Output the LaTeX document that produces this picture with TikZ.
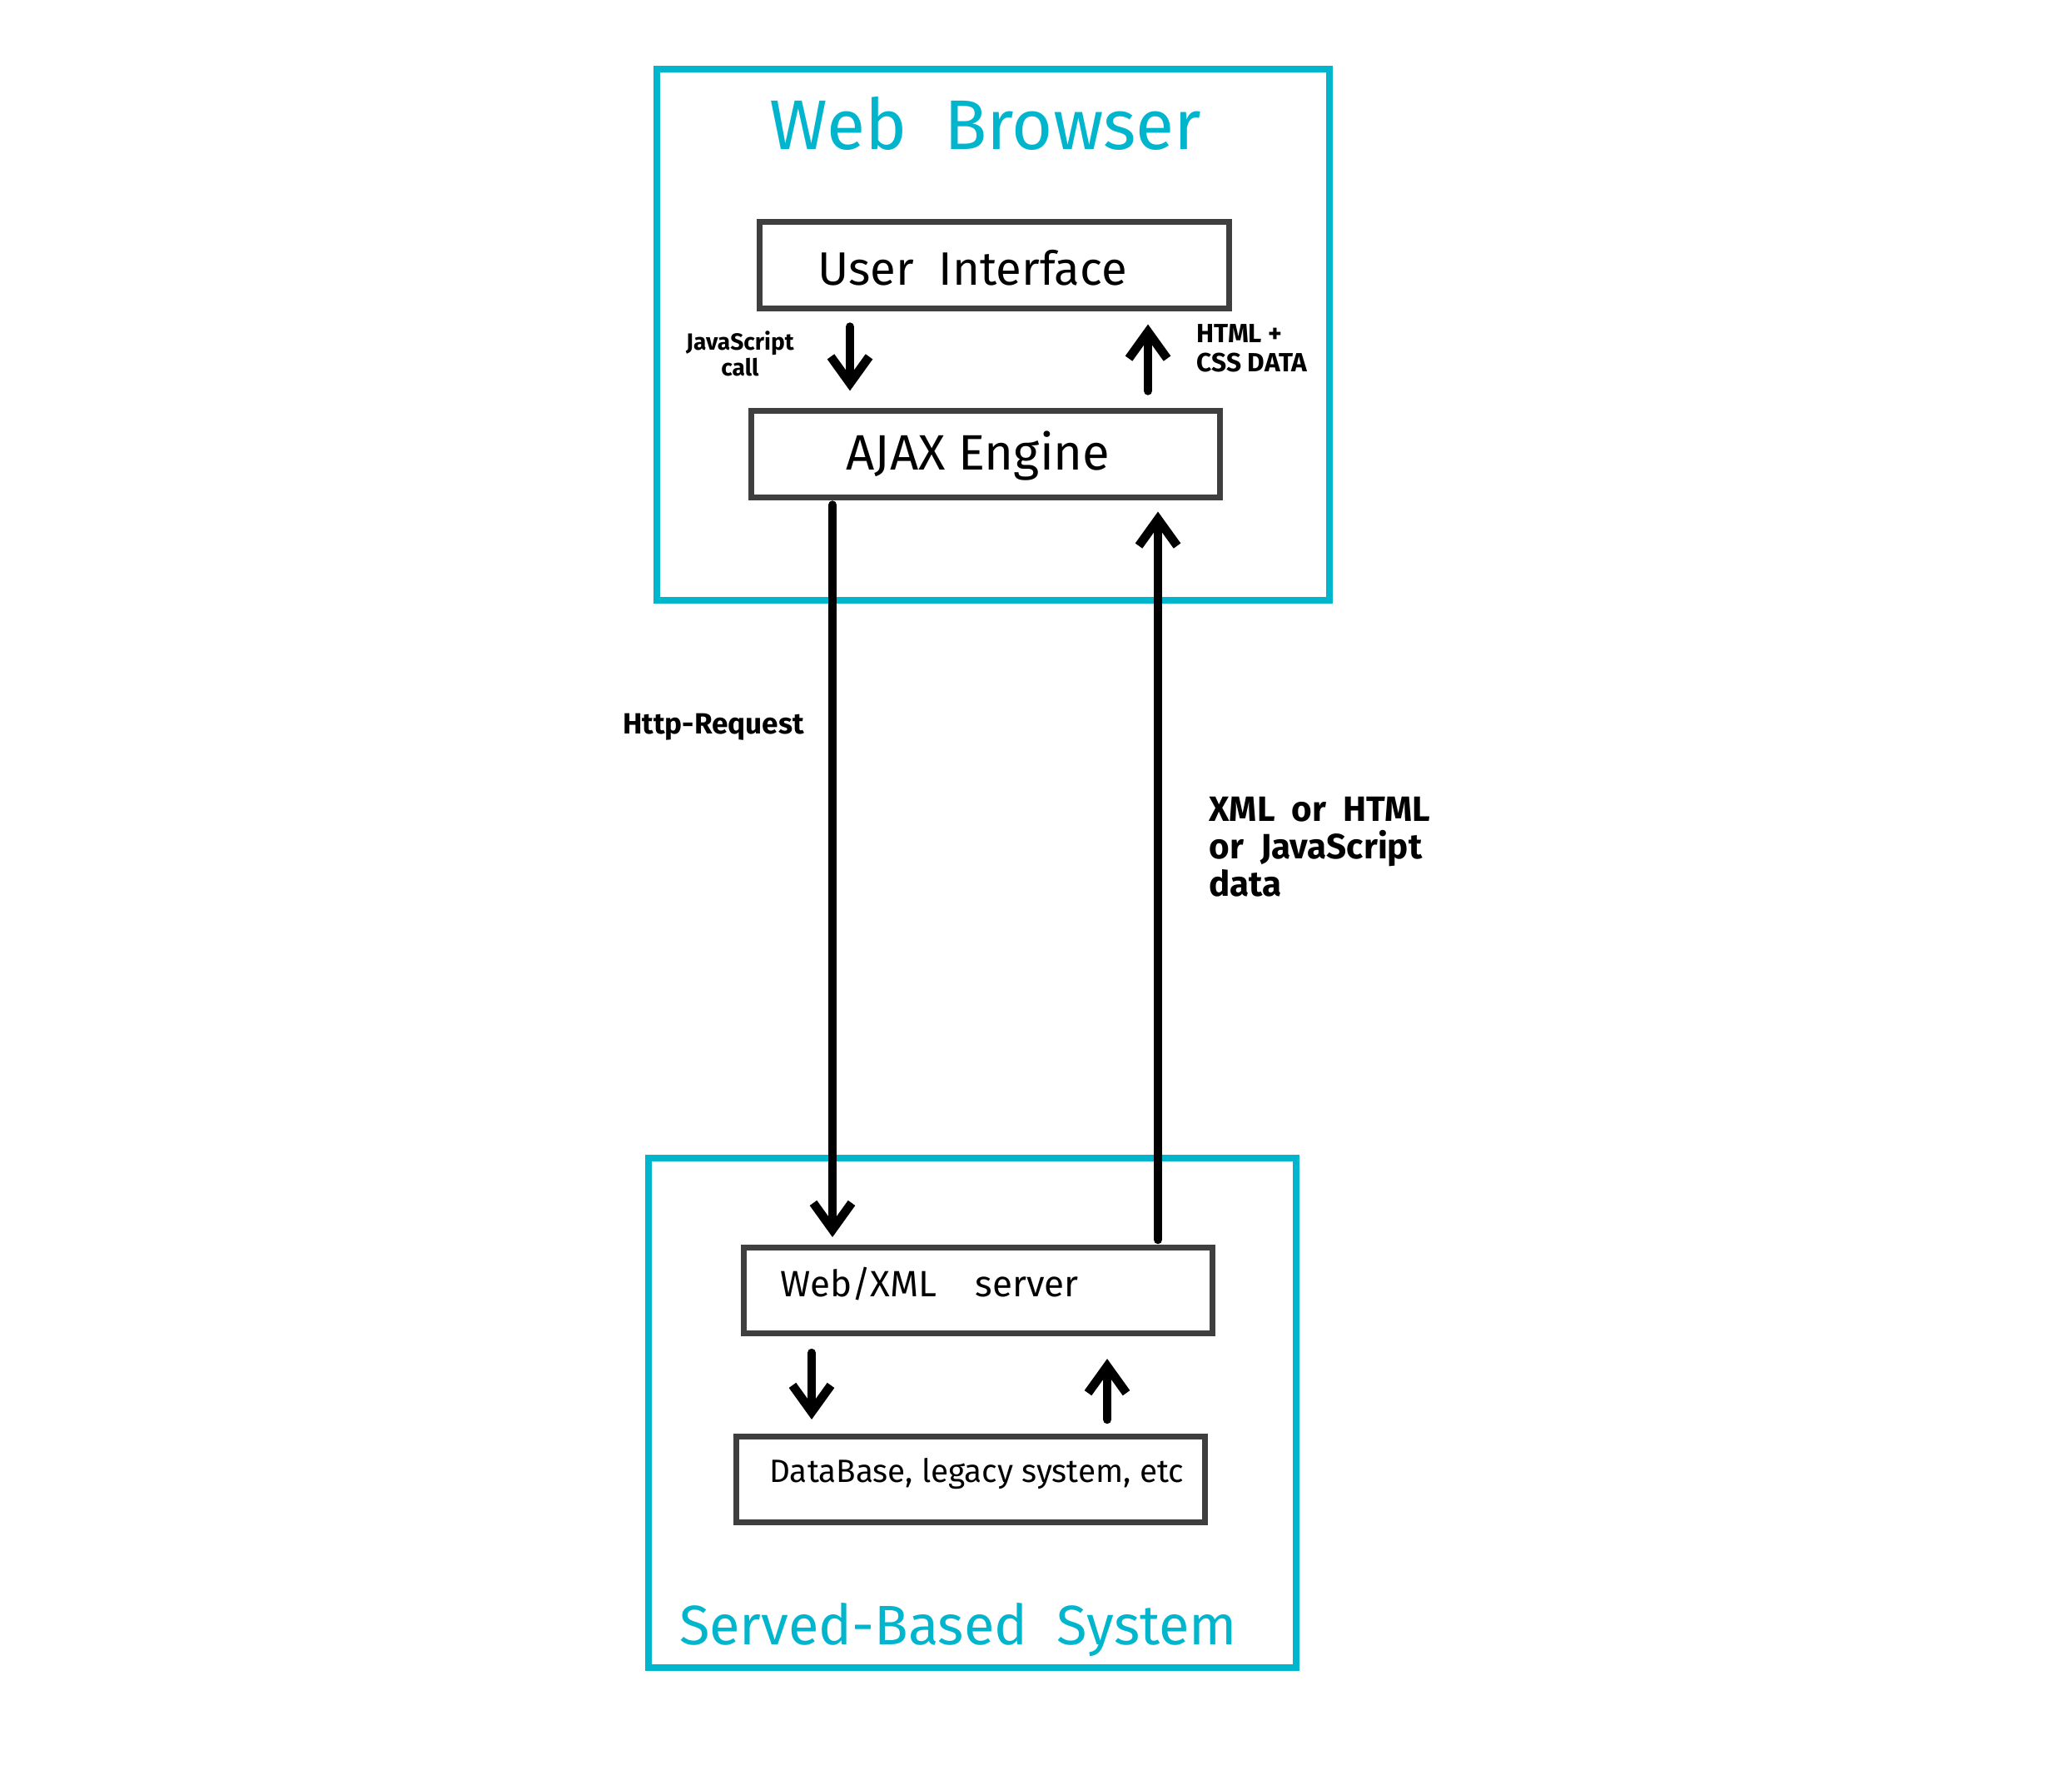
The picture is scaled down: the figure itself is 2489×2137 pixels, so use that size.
\documentclass[tikz,border=0pt]{standalone}
\usepackage{fontspec}
\setmainfont{Fira Sans}
\usepackage{tikz}
\usetikzlibrary{arrows.meta}
\definecolor{ajxcyan}{HTML}{00B5CC}
\definecolor{ajxgray}{HTML}{3F3F3F}

\tikzset{
  zone/.style={draw=ajxcyan,line width=2.3pt},
  layer/.style={draw=ajxgray,line width=2pt,fill=white,minimum width=5.63cm,minimum height=1.03cm,inner sep=0pt},
  flow/.style={line width=3pt,line cap=round,-{Straight Barb[length=3.2mm,width=4.6mm,line width=3pt]}},
  note/.style={font=\fontsize{9}{10}\selectfont\bfseries,align=left}
}

\begin{document}
\begin{tikzpicture}[x=0.01cm,y=-0.01cm]
  \useasboundingbox (0,0) rectangle (2489,2137);
  % outer zones
  \draw[zone] (789,83) rectangle (1597,721);
  \draw[zone] (779,1391) rectangle (1557,2003);
  \node[text=ajxcyan,font=\fontsize{24}{27}\selectfont] (browser) at (1184,148) {Web\ \ Browser};
  \node[text=ajxcyan,font=\fontsize{19}{22}\selectfont] (system) at (1151,1958) {Served-Based\ \ System};
  % layers
  \node[layer] (ui) at (1194.5,318.5) {};
  \node[font=\fontsize{16}{19}\selectfont] (uitxt) at (1168,322) {User\ \ Interface};
  \node[layer] (ajax) at (1184,545.5) {};
  \node[font=\fontsize{17}{20}\selectfont] (ajaxtxt) at (1175,548) {AJAX Engine};
  \node[layer] (srv) at (1175,1550) {};
  \node[font=\fontsize{12.5}{15}\selectfont,anchor=west] (srvtxt) at (925,1542) {Web/XML\ \ \ \ server};
  \node[layer] (db) at (1166,1777) {};
  \node[font=\fontsize{11}{14}\selectfont,anchor=west] (dbtxt) at (912,1770) {DataBase, legacy system, etc};
  % columns of the arrows
  \coordinate (jsx) at (1021,0);
  \coordinate (cssx) at (1379,0);
  \coordinate (reqx) at (1000,0);
  \coordinate (resx) at (1391,0);
  \coordinate (qx) at (975,0);
  \coordinate (ax) at (1330,0);
  % arrows
  \draw[flow] ([yshift=-1.9mm]ui.south -| jsx) -- ([yshift=2.1mm]ajax.north -| jsx);
  \draw[flow] ([yshift=2.1mm]ajax.north -| cssx) -- ([yshift=-1.6mm]ui.south -| cssx);
  \draw[flow] ([yshift=-0.6mm]ajax.south -| reqx) -- ([yshift=0.9mm]srv.north -| reqx);
  \draw[flow] ([yshift=0.6mm]srv.north -| resx) -- ([yshift=-1.4mm]ajax.south -| resx);
  \draw[flow] ([yshift=-2mm]srv.south -| qx) -- ([yshift=1.7mm]db.north -| qx);
  \draw[flow] ([yshift=1.7mm]db.north -| ax) -- ([yshift=-2.7mm]srv.south -| ax);
  % labels
  \node[note,align=center,font=\fontsize{8}{9}\selectfont\bfseries] (jslbl) at (889,425) {JavaScript\\call};
  \node[note,anchor=west,font=\fontsize{9}{10}\selectfont\bfseries] (csslbl) at (1425,418) {HTML +\\CSS DATA};
  \node[note,font=\fontsize{10}{12}\selectfont\bfseries] (reqlbl) at (857,873) {Http-Request};
  \node[note,anchor=north west,font=\fontsize{12}{12.8}\selectfont\bfseries] (reslbl) at (1440,945) {XML\ \ or\ \ HTML\\or\ \ JavaScript\\data};
\end{tikzpicture}
\end{document}
